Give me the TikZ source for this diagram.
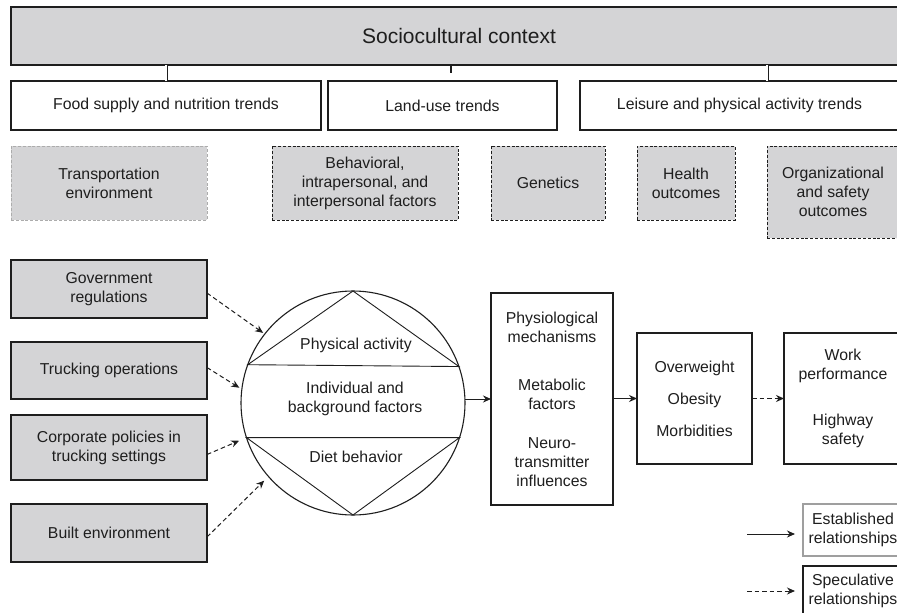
\documentclass[tikz,border=0pt]{standalone}
\usepackage{fontspec}
\setmainfont{Liberation Sans}
\usetikzlibrary{arrows.meta}
\definecolor{boxgray}{RGB}{212,212,214}
\definecolor{ink}{RGB}{30,30,30}
\begin{document}
\begin{tikzpicture}[x=1pt,y=-1pt,
  font=\fontsize{15.8}{19}\selectfont, text=ink,
  base/.style={draw=ink, line width=1.1pt, inner sep=0pt, outer sep=0pt, anchor=north west, align=center},
  trend/.style={base, fill=white},
  whitebox/.style={base, fill=white},
  graybox/.style={base, fill=boxgray},
  dashbox/.style={base, fill=boxgray, line width=1pt, dash pattern=on 3pt off 1.8pt},
  lightdash/.style={dashbox, draw=gray!65},
  dbl/.style={draw=ink, line width=0.8pt, double=white, double distance=1.4pt},
  est/.style={draw=ink, line width=1pt, -{Stealth[length=8pt,width=7pt]}},
  spec/.style={draw=ink, line width=1pt, dash pattern=on 4.5pt off 3pt, -{Stealth[length=8pt,width=7pt]}},
  inner/.style={draw=ink, line width=0.9pt}
]
\useasboundingbox (0,0) rectangle (897,613);
\clip (0,0) rectangle (897,613);

% top context
\node[graybox, minimum width=896, minimum height=58] (socio) at (11,7) {\fontsize{21}{25}\selectfont Sociocultural context};
\node[trend, minimum width=310, minimum height=49] (food) at (11,81) {Food supply and nutrition trends};
\node[trend, minimum width=229, minimum height=49] (land) at (328,81) {Land-use trends};
\node[trend, minimum width=319, minimum height=49] (leis) at (580,81) {Leisure and physical activity trends};

\draw[dbl] (food.north |- socio.south) -- (food.north);
\coordinate (lstub) at (451,73);
\draw[draw=ink, line width=2.2pt] (lstub |- socio.south) -- (lstub);
\coordinate (lj) at (767,81);
\draw[dbl] (lj |- socio.south) -- (lj);

% dashed factor boxes
\node[lightdash, minimum width=196, minimum height=74] (trans) at (11,146) {Transportation\\environment};
\node[dashbox, minimum width=186, minimum height=74] (behav) at (272,146) {Behavioral,\\intrapersonal, and\\interpersonal factors};
\node[dashbox, minimum width=114, minimum height=74] (gen) at (491,146) {Genetics};
\node[dashbox, minimum width=98, minimum height=74] (health) at (637,146) {Health\\outcomes};
\node[dashbox, minimum width=132, minimum height=92] (org) at (767,146) {Organizational\\and safety\\outcomes};

% left boxes
\node[graybox, minimum width=196, minimum height=58] (gov) at (11,260) {Government\\regulations};
\node[graybox, minimum width=196, minimum height=57] (truck) at (11,342) {Trucking operations};
\node[graybox, minimum width=196, minimum height=65] (corp) at (11,415) {Corporate policies in\\trucking settings};
\node[graybox, minimum width=196, minimum height=58] (built) at (11,504) {Built environment};

% circle
\node[draw=ink, line width=1.1pt, circle, minimum size=224, inner sep=0pt, outer sep=0pt] (circ) at (353,403) {};
\draw[inner] (circ.160.4) -- (circ.north) -- (circ.19.6) -- cycle;
\draw[inner] (circ.198.2) -- (circ.south) -- (circ.-18.2) -- cycle;
\node (pa) at (356,345) {Physical activity};
\node[align=center] (ibf) at (355,399) {Individual and\\background factors};
\node (diet) at (356,457) {Diet behavior};

% right chain
\node[whitebox, minimum width=122, minimum height=212] (phys) at (491,293) {Physiological\\mechanisms\\[29pt]Metabolic\\factors\\[20pt]Neuro-\\transmitter\\influences};
\node[whitebox, minimum width=115, minimum height=131] (over) at (637,333) {Overweight\\[13pt]Obesity\\[13pt]Morbidities};
\node[whitebox, minimum width=118, minimum height=131] (work) at (784,333) {Work\\performance\\[27pt]Highway\\safety};

% arrows
\draw[spec, shorten >=2pt] ([yshift=-4pt]gov.east) -- (circ.142);
\draw[spec, shorten >=3pt] ([yshift=3pt]truck.east) -- (circ.173);
\draw[spec, shorten >=8pt] ([yshift=-7pt]corp.east) -- (circ.198);
\draw[spec, shorten >=6pt] ([yshift=-4pt]built.east) -- (circ.221);
\draw[est] (phys.west -| circ.east) -- (phys.west);
\draw[est] (phys.east |- over.west) -- (over.west);
\draw[spec] (over.east) -- (work.west);

% legend
\node[whitebox, draw=gray!75, minimum width=100, minimum height=52] (estb) at (803,504) {Established\\relationships};
\node[whitebox, minimum width=100, minimum height=50] (specb) at (803,566) {Speculative\\relationships};
\coordinate (e1) at (747,534);
\coordinate (e2) at (795,534);
\draw[est] (e1) -- (e2);
\coordinate (s1) at (747,591);
\coordinate (s2) at (795,591);
\draw[spec] (s1) -- (s2);
\end{tikzpicture}
\end{document}
